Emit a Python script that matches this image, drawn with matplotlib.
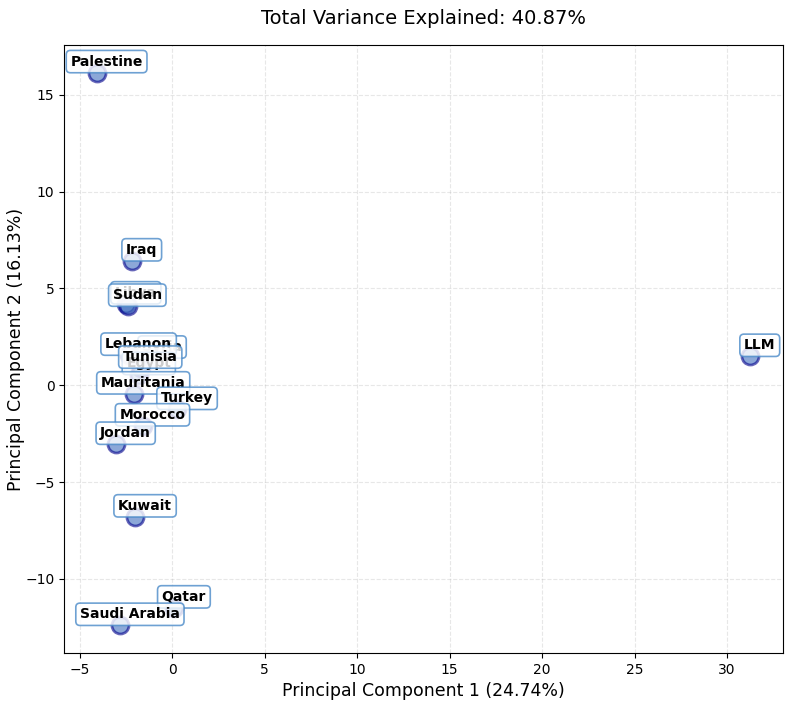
import matplotlib
matplotlib.use("Agg")
import matplotlib.pyplot as plt

countries = ["Palestine", "Iraq", "Libya", "Sudan", "Syria", "Lebanon", "Egypt", "Tunisia",
             "Mauritania", "Turkey", "Morocco", "Jordan", "Kuwait", "Qatar", "Saudi Arabia", "LLM"]
pc1 = [-4.08, -2.18, -2.50, -2.42, -1.08, -2.35, -1.80, -1.72,
       -2.10, 0.27, -1.60, -3.05, -2.00, 0.10, -2.82, 31.24]
pc2 = [16.14, 6.42, 4.20, 4.08, 1.40, 1.55, 0.55, 0.88,
       -0.45, -1.25, -2.10, -3.05, -6.80, -11.50, -12.40, 1.49]

title = "Total Variance Explained: 40.87%"
xlabel = "Principal Component 1 (24.74%)"
ylabel = "Principal Component 2 (16.13%)"

fig = plt.figure(figsize=(7.93, 7.04), dpi=100)
ax = fig.add_axes([0.081, 0.0724, 0.906, 0.8636])

ax.scatter(pc1, pc2, s=150, c="#3f6fbf", alpha=0.6, edgecolors="darkblue", linewidths=2, zorder=3)

for name, x, y in zip(countries, pc1, pc2):
    ax.annotate(name, (x, y), xytext=(7, 8), textcoords="offset points",
                ha="center", va="center", fontsize=10, fontweight="bold",
                bbox=dict(boxstyle="round,pad=0.3", fc="white", ec="#4a8ac8", lw=1.2, alpha=0.8),
                zorder=4)

ax.grid(True, linestyle="--", alpha=0.3)
ax.set_axisbelow(True)
ax.set_title(title, fontsize=14, pad=15)
ax.set_xlabel(xlabel, fontsize=12.5, labelpad=4)
ax.set_ylabel(ylabel, fontsize=12.5, labelpad=0)

fig.savefig("out.png", dpi=100)
